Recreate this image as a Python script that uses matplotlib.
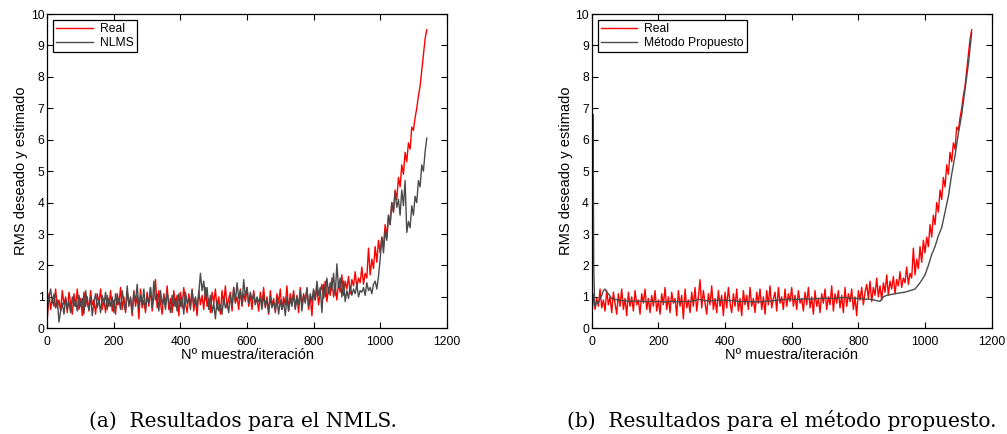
import numpy as np
import matplotlib
matplotlib.use("Agg")
import matplotlib.pyplot as plt

plt.rcParams['font.family'] = ['Liberation Sans', 'DejaVu Sans']

# muestras cada 5 iteraciones (0 .. 1140)
muestras = np.arange(0, 1141, 5)

# RMS real (deseado)
rms_real = [
    0.3, 1.1, 0.6, 0.95, 0.7, 1.25, 0.65, 0.9, 0.55, 1.2, 0.75, 1.0, 0.5, 1.15, 0.8, 0.45, 1.1, 0.7, 1.25, 0.6,
    0.95, 0.4, 1.15, 0.7, 1.0, 0.55, 1.2, 0.75, 0.9, 0.45, 1.1, 0.8, 1.25, 0.6, 0.95, 0.5, 1.05, 0.7, 1.2, 0.55,
    0.9, 0.45, 1.1, 0.75, 1.3, 0.6, 1.0, 0.5, 1.15, 0.8, 0.95, 0.4, 1.2, 0.7, 1.05, 0.3, 1.25, 0.65, 0.9, 0.5,
    1.15, 0.7, 1.3, 0.55, 1.0, 1.55, 0.65, 1.2, 0.8, 0.45, 1.1, 0.75, 1.35, 0.6, 0.95, 0.5, 1.2, 0.7, 1.05, 0.4,
    1.15, 0.65, 1.3, 0.8, 0.5, 1.1, 0.7, 1.25, 0.55, 0.95, 0.4, 1.2, 0.75, 1.05, 0.6, 1.3, 0.7, 0.95, 0.5, 1.15,
    0.8, 1.25, 0.6, 1.0, 0.45, 1.2, 0.75, 1.35, 0.65, 0.95, 1.15, 0.55, 1.3, 0.8, 1.0, 0.6, 1.25, 0.7, 1.1, 0.85,
    1.3, 0.7, 1.05, 0.6, 1.2, 0.8, 0.95, 0.55, 1.15, 0.75, 1.3, 0.65, 1.0, 0.45, 1.2, 0.7, 0.95, 0.5, 1.1, 0.8,
    1.25, 0.6, 1.0, 0.75, 1.35, 0.55, 1.1, 0.8, 1.2, 0.65, 1.05, 0.5, 1.3, 0.7, 1.1, 0.85, 1.25, 0.6, 1.0, 0.4,
    1.2, 0.9, 1.3, 0.75, 1.15, 1.4, 0.95, 1.5, 0.85, 1.3, 1.05, 1.6, 1.0, 1.35, 0.9, 1.45, 1.15, 1.7, 1.05, 1.5,
    1.25, 1.65, 1.1, 1.55, 1.35, 1.8, 1.3, 1.6, 1.45, 1.95, 1.4, 1.75, 1.6, 2.55, 1.7, 2.2, 1.9, 2.6, 2.1, 2.8,
    2.4, 2.9, 2.6, 3.3, 2.9, 3.6, 3.3, 4.0, 3.7, 4.4, 4.1, 4.8, 4.5, 5.2, 4.9, 5.6, 5.3, 5.9, 5.7, 6.4,
    6.3, 6.7, 7.0, 7.4, 7.7, 8.2, 8.7, 9.2, 9.5,
]

# estimacion NLMS
rms_nlms = [
    0.6, 1.0, 1.25, 0.8, 1.1, 0.65, 0.9, 0.2, 0.55, 0.8, 0.45, 0.95, 0.6, 0.85, 0.5, 1.0, 0.7, 0.9, 0.55, 1.05,
    0.7, 0.95, 0.45, 1.2, 0.8, 0.6, 1.0, 0.4, 0.85, 1.1, 0.65, 0.9, 0.5, 1.05, 0.75, 1.15, 0.6, 0.95, 0.7, 1.0,
    0.5, 1.1, 0.75, 0.95, 0.6, 1.2, 0.8, 0.55, 1.35, 0.7, 1.0, 0.5, 1.15, 0.85, 1.4, 0.65, 1.05, 0.75, 1.25, 0.6,
    1.0, 0.8, 1.3, 0.65, 1.5, 0.9, 1.1, 0.55, 1.2, 0.75, 1.0, 0.6, 1.15, 0.85, 0.5, 1.05, 0.7, 0.95, 0.55, 1.1,
    0.7, 1.0, 0.45, 1.15, 0.8, 0.95, 0.6, 1.2, 0.75, 1.0, 0.65, 1.1, 1.75, 1.2, 1.5, 0.9, 1.3, 0.6, 1.05, 0.5,
    0.8, 0.3, 0.9, 0.55, 0.75, 0.45, 1.0, 0.65, 0.8, 0.5, 1.05, 0.7, 1.3, 0.85, 1.45, 0.95, 1.2, 0.75, 1.55, 1.0,
    1.3, 0.8, 1.15, 0.9, 1.1, 0.75, 1.0, 0.85, 0.95, 0.6, 1.05, 0.7, 0.9, 0.5, 1.0, 0.65, 0.85, 0.55, 0.95, 0.45,
    0.9, 0.6, 0.85, 0.4, 1.0, 0.55, 0.95, 0.7, 1.1, 0.6, 1.0, 0.75, 1.2, 0.55, 1.05, 0.8, 1.3, 0.7, 1.1, 0.85,
    1.25, 0.9, 1.5, 1.05, 1.3, 0.5, 1.4, 1.0, 1.6, 1.1, 1.45, 1.2, 1.75, 1.05, 2.05, 1.3, 1.6, 1.0, 1.5, 0.85,
    1.2, 0.95, 1.35, 1.05, 1.25, 1.1, 1.4, 1.0, 1.2, 1.15, 1.3, 1.05, 1.45, 1.2, 1.3, 1.1, 1.4, 1.5, 1.25, 1.65,
    2.2, 2.9, 2.4, 3.1, 2.8, 3.6, 3.3, 4.0, 3.7, 4.35, 3.85, 4.1, 3.6, 4.4, 3.9, 4.7, 3.05, 3.4, 3.2, 3.9,
    3.6, 4.2, 4.0, 4.7, 4.5, 5.2, 5.0, 5.6, 6.05,
]

# estimacion del metodo propuesto (curva suave)
x_prop = [0, 2, 4, 6, 9, 12, 15, 20, 25, 30, 35, 40, 45, 50, 60, 70, 80, 90, 100,
          120, 140, 160, 180, 200, 220, 240, 260, 280, 300, 310, 320, 330, 340,
          360, 380, 400, 420, 440, 460, 480, 500, 520, 540, 560, 580, 600, 620, 640, 660,
          680, 700, 720, 740, 760, 780, 800, 820, 840, 855, 865, 875, 885,
          900, 920, 940, 955, 970, 985, 1000, 1010, 1020, 1030, 1040, 1050, 1060,
          1070, 1080, 1090, 1100, 1110, 1120, 1130, 1140]
rms_prop = [0.8, 4.0, 6.8, 2.0, 0.7, 0.75, 0.85, 0.8, 0.95, 1.05, 1.2, 1.25, 1.15, 1.1, 0.95, 0.92, 0.9, 0.88, 0.87,
            0.86, 0.87, 0.85, 0.86, 0.85, 0.84, 0.86, 0.84, 0.85, 0.86, 0.88, 0.93, 0.9, 0.88,
            0.87, 0.9, 0.89, 0.88, 0.86, 0.85, 0.85, 0.84, 0.86, 0.87, 0.9, 0.92, 0.93, 0.92, 0.94, 0.93,
            0.95, 0.96, 0.95, 0.97, 0.98, 0.96, 0.95, 0.93, 0.92, 0.88, 0.86, 1.0, 1.05,
            1.08, 1.12, 1.15, 1.2, 1.25, 1.45, 1.7, 2.0, 2.35, 2.6, 2.95, 3.2, 3.7,
            4.2, 4.9, 5.5, 6.2, 6.8, 7.6, 8.4, 9.4]

rojo = '#ff0000'
gris = '#4a4a4a'

fig = plt.figure(figsize=(10.07, 4.34), dpi=100)
ax1 = fig.add_axes([0.047, 0.2435, 0.3966, 0.7242])
ax2 = fig.add_axes([0.5876, 0.2435, 0.3972, 0.7242])

ax1.plot(muestras, rms_real, color=rojo, lw=1.0, label='Real')
ax1.plot(muestras, rms_nlms, color=gris, lw=1.0, label='NLMS')
ax2.plot(muestras, rms_real, color=rojo, lw=1.0, label='Real')
ax2.plot(x_prop, rms_prop, color=gris, lw=1.0, label='Método Propuesto')

for ax in (ax1, ax2):
    ax.set_xlim(0, 1200)
    ax.set_ylim(0, 10)
    ax.set_xticks(range(0, 1201, 200))
    ax.set_yticks(range(0, 11))
    ax.tick_params(direction='in', top=True, right=True, labelsize=8.7, length=4, width=0.8, pad=2)
    ax.tick_params(axis='x', pad=5.5)
    for s in ax.spines.values():
        s.set_linewidth(0.9)
    ax.set_xlabel('Nº muestra/iteración', fontsize=10.5, labelpad=0)
    ax.set_ylabel('RMS deseado y estimado', fontsize=10.5, labelpad=2)
    leg = ax.legend(loc='upper left', fontsize=8.7, fancybox=False, framealpha=1,
                    edgecolor='black', handlelength=3.0, borderaxespad=0.5,
                    borderpad=0.25, labelspacing=0.15, handletextpad=0.6)
    leg.get_frame().set_linewidth(0.9)

fig.text(0.241, 0.016, '(a)  Resultados para el NMLS.', ha='center', va='baseline',
         fontsize=14.5, family='DejaVu Serif')
fig.text(0.776, 0.016, '(b)  Resultados para el método propuesto.', ha='center', va='baseline',
         fontsize=14.5, family='DejaVu Serif')

fig.savefig('out.png', dpi=100)
